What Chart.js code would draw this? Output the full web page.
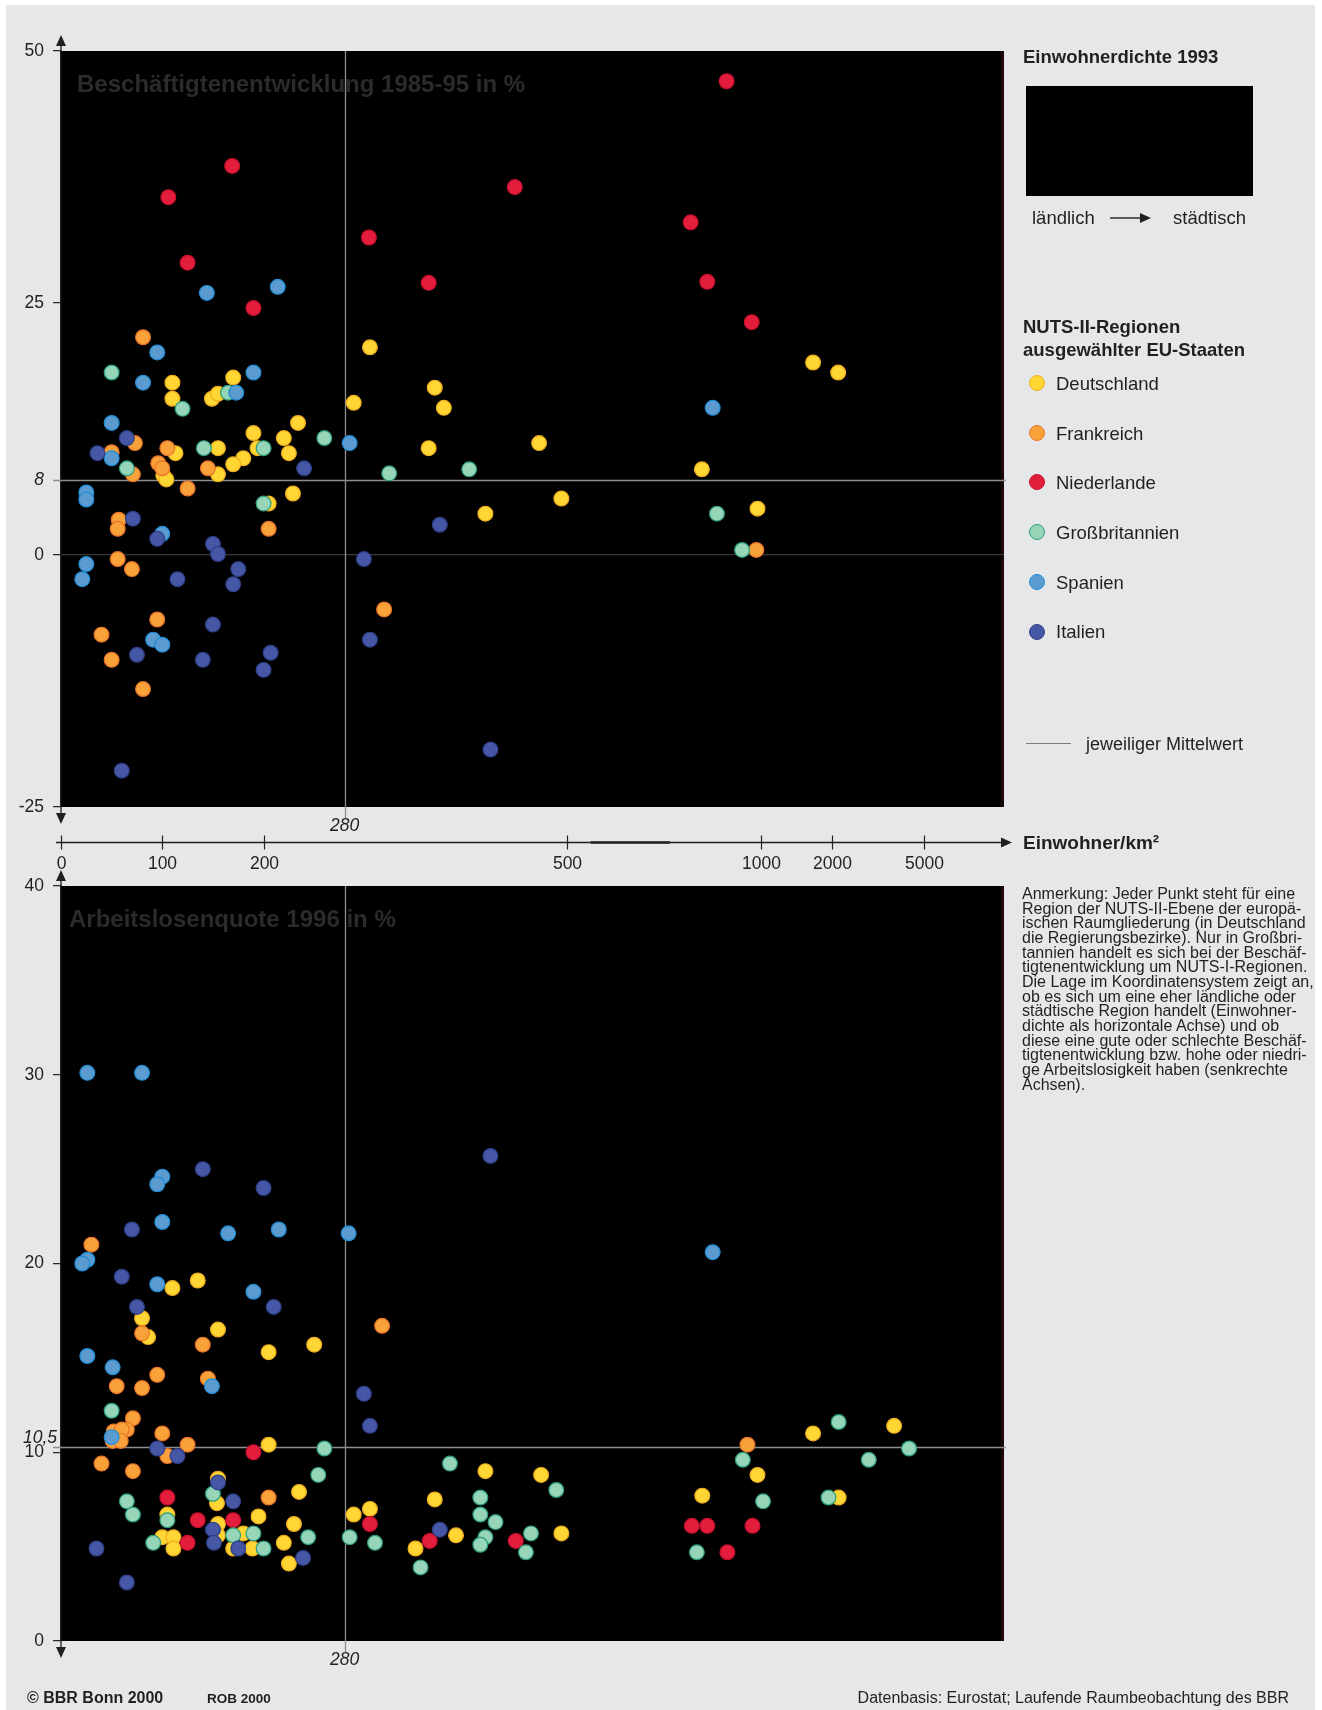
<!DOCTYPE html>
<html lang="de">
<head>
<meta charset="UTF-8">
<title>Einwohnerdichte, Beschäftigtenentwicklung und Arbeitslosenquote</title>
<script src="https://cdn.jsdelivr.net/npm/chart.js"></script>
<style>
    body {
        margin: 0;
        width: 1322px;
        height: 1710px;
        position: relative;
        overflow: hidden;
        background: #fff;
        font-family: "Liberation Sans", Arial, Helvetica, sans-serif;
        color: #231f20;
    }
    #panel {
        position: absolute;
        left: 6px;
        top: 5px;
        width: 1309px;
        height: 1705px;
        background: #e6e7e9;
    }
    canvas {
        position: absolute;
        left: 0;
    }
    #empChart { top: 0; }
    #unempChart { top: 860px; }
    .txt {
        position: absolute;
        white-space: nowrap;
        line-height: 1;
        font-size: 18.5px;
    }
    .bold { font-weight: bold; }
    #densityBox {
        position: absolute;
        left: 1026px;
        top: 86px;
        width: 227px;
        height: 110px;
        background: #000;
    }
    .dot {
        position: absolute;
        width: 14px;
        height: 14px;
        border-radius: 50%;
        border: 1.3px solid;
    }
    #note {
        position: absolute;
        left: 1022px;
        top: 887px;
        font-size: 16px;
        line-height: 14.65px;
        white-space: nowrap;
    }
</style>
</head>
<body>
<div id="panel"></div>

<canvas id="empChart" width="1322" height="880"></canvas>
<canvas id="unempChart" width="1322" height="850"></canvas>

<div class="txt bold" style="left:1023px; top:48px;">Einwohnerdichte 1993</div>
<div id="densityBox"></div>
<div class="txt" style="left:1032px; top:209px;">ländlich</div>
<svg style="position:absolute; left:1108px; top:211px;" width="46" height="14">
    <line x1="2" y1="7" x2="33" y2="7" stroke="#231f20" stroke-width="1.4"/>
    <polygon points="32,2 43,7 32,12" fill="#231f20"/>
</svg>
<div class="txt" style="left:1173px; top:209px;">städtisch</div>

<div class="txt bold" style="left:1023px; top:318px;">NUTS-II-Regionen</div>
<div class="txt bold" style="left:1023px; top:340.5px;">ausgewählter EU-Staaten</div>
<div id="legend"></div>

<svg style="position:absolute; left:1026px; top:738px;" width="48" height="10">
    <line x1="0" y1="5.5" x2="45" y2="5.5" stroke="#7d7d7d" stroke-width="1.2"/>
</svg>
<div class="txt" style="left:1086px; top:734.5px; font-size:18px;">jeweiliger Mittelwert</div>

<div class="txt bold" style="left:1023px; top:832.5px; font-size:19px;">Einwohner/km²</div>

<div id="note">Anmerkung: Jeder Punkt steht für eine<br>Region der NUTS-II-Ebene der europä-<br>ischen Raumgliederung (in Deutschland<br>die Regierungsbezirke). Nur in Großbri-<br>tannien handelt es sich bei der Beschäf-<br>tigtenentwicklung um NUTS-I-Regionen.<br>Die Lage im Koordinatensystem zeigt an,<br>ob es sich um eine eher ländliche oder<br>städtische Region handelt (Einwohner-<br>dichte als horizontale Achse) und ob<br>diese eine gute oder schlechte Beschäf-<br>tigtenentwicklung bzw. hohe oder niedri-<br>ge Arbeitslosigkeit haben (senkrechte<br>Achsen).</div>

<div class="txt bold" style="left:27px; top:1690px; font-size:16px;">© BBR Bonn 2000</div>
<div class="txt bold" style="left:207px; top:1691.5px; font-size:13.5px;">ROB 2000</div>
<div class="txt" style="right:33px; top:1690px; font-size:16px;">Datenbasis: Eurostat; Laufende Raumbeobachtung des BBR</div>

<script>
    const COUNTRIES = ['Deutschland', 'Frankreich', 'Niederlande', 'Großbritannien', 'Spanien', 'Italien'];
    const FILL = ['#ffd633', '#f9a23a', '#e31d3c', '#97d5b8', '#5b9bd0', '#4657a5'];
    const EDGE = ['#efad1f', '#e9722a', '#c8102e', '#2a9c7c', '#1f8ed6', '#2f3f88'];

    // [Einwohner/km², Beschäftigtenentwicklung 1985-95 in %]
    const empDE = [[305,20.6],[1669,19.1],[2134,18.1],[170,17.6],[110,17.1],[369,16.6],[110,15.5],[149,15.5],[155,16.0],[289,15.1],
        [378,14.6],[234,13.1],[190,12.1],[220,11.6],[472,11.1],[363,10.6],[155,10.6],[194,10.6],[225,10.1],[113,10.1],
        [180,9.6],[170,9.0],[155,8.0],[101,7.9],[104,7.5],[848,8.5],[229,6.1],[494,5.6],[205,5.1],[419,4.1],[992,4.6]];
    const empFR = [[81,21.6],[73,11.1],[50,10.2],[71,8.0],[105,10.6],[96,9.1],[100,8.6],[145,8.6],[125,6.6],[57,3.5],
        [56,2.6],[205,2.6],[56,-0.4],[70,-1.4],[319,-5.4],[95,-6.4],[40,-7.9],[50,-10.4],[81,-13.3],[989,0.5]];
    const empNL = [[912,47.0],[106,35.5],[169,38.6],[448,36.5],[304,31.5],[125,29.0],[819,33.0],[363,27.0],[862,27.1],[190,24.5],[977,23.1]];
    const empGB = [[50,18.1],[120,14.5],[165,16.1],[141,10.6],[200,10.6],[65,8.6],[260,11.6],[324,8.1],[403,8.5],[200,5.1],[887,4.1],[952,0.5]];
    const empES = [[95,20.1],[81,17.1],[190,18.1],[173,16.1],[144,26.0],[214,26.6],[50,13.1],[50,9.6],[285,11.1],[876,14.6],
        [25,6.2],[25,5.5],[100,2.1],[25,-0.9],[21,-2.4],[91,-8.4],[100,-8.9]];
    const empIT = [[65,11.6],[36,10.1],[240,8.6],[71,3.6],[95,1.6],[150,1.1],[155,0.1],[374,3.0],[115,-2.4],[175,-1.4],
        [170,-2.9],[299,-0.4],[305,-8.4],[150,-6.9],[75,-9.9],[140,-10.4],[207,-9.7],[200,-11.4],[424,-19.3],[60,-21.4]];

    // [Einwohner/km², Arbeitslosenquote 1996 in %]
    const unempDE = [[110,18.7],[135,19.1],[80,17.1],[86,16.1],[155,16.5],[205,15.3],[250,15.7],[205,10.4],[155,8.6],[154,7.3],
        [235,7.9],[105,6.7],[155,6.2],[195,6.6],[230,6.2],[180,5.7],[100,5.5],[111,5.5],[155,5.6],[111,4.9],
        [170,4.9],[189,4.9],[220,5.2],[225,4.1],[289,6.7],[305,7.0],[350,4.9],[369,7.5],[390,5.6],[419,9.0],
        [474,8.8],[494,5.7],[849,7.7],[992,8.8],[1669,11.0],[2144,7.6],[3708,11.4]];
    const unempFR = [[30,21.0],[80,16.3],[140,15.7],[317,16.7],[95,14.1],[55,13.5],[80,13.4],[145,13.9],[71,11.8],[65,11.2],
        [52,11.1],[60,11.2],[51,10.6],[59,10.6],[100,11.0],[125,10.4],[105,9.8],[40,9.4],[71,9.0],[205,7.6],[966,10.4]];
    const unempNL = [[190,10.0],[105,7.6],[135,6.4],[170,6.4],[125,5.2],[305,6.2],[364,5.3],[449,5.3],[822,6.1],[862,6.1],[979,6.1],[914,4.7]];
    const unempGB = [[50,12.2],[260,10.2],[254,8.8],[150,7.8],[65,7.4],[71,6.7],[105,6.4],[91,5.2],[170,5.6],[190,5.7],
        [200,4.9],[244,5.5],[285,5.5],[310,5.2],[355,3.9],[384,9.4],[489,8.0],[414,7.6],[414,6.7],[429,6.3],
        [419,5.5],[414,5.1],[464,5.7],[459,4.7],[954,9.6],[835,4.7],[1024,7.4],[1940,7.6],[2144,11.6],[2887,9.6],[4298,10.2]];
    const unempES = [[26,30.1],[80,30.1],[100,24.6],[95,24.2],[100,22.2],[165,21.6],[215,21.8],[284,21.6],[26,20.2],[21,20.0],
        [95,18.9],[190,18.5],[26,15.1],[51,14.5],[149,13.5],[50,10.8],[876,20.6]];
    const unempIT = [[140,25.0],[200,24.0],[70,21.8],[60,19.3],[75,17.7],[210,17.7],[299,13.1],[305,11.4],[424,25.7],[95,10.2],
        [115,9.8],[155,8.4],[170,7.4],[35,4.9],[65,3.1],[150,5.9],[151,5.2],[175,4.9],[239,4.4],[374,5.9]];

    const EMP = [empDE, empFR, empNL, empGB, empES, empIT];
    const UNEMP = [unempDE, unempFR, unempNL, unempGB, unempES, unempIT];

    const X_TICKS = [0, 100, 200, 500, 1000, 2000, 5000];
    const X_MEAN = 280;
    const EMP_MEAN = 7.4;
    const UNEMP_MEAN = 10.3;

    const FONT = '"Liberation Sans", Arial, Helvetica, sans-serif';
    Chart.defaults.font.family = FONT;
    Chart.defaults.font.size = 17.5;
    Chart.defaults.color = '#231f20';

    // density axis: linear up to 500, squeezed between 500 and 1000, logarithmic above
    function densityPos(d) {
        if (d <= 500) return d;
        if (d <= 1000) return 500 + (d - 500) * 0.3814;
        if (d <= 2000) return 690.7 + Math.log2(d / 1000) * 70.1;
        return 760.8 + Math.log(d / 2000) / Math.log(2.5) * 91.6;
    }

    const LinearScale = Chart.LinearScale || Chart.registry.getScale('linear');
    class DensityScale extends LinearScale {
        getPixelForValue(value) {
            return super.getPixelForValue(densityPos(value));
        }
    }
    DensityScale.id = 'density';
    DensityScale.defaults = LinearScale.defaults;
    Chart.register(DensityScale);

    function arrow(ctx, x, y, dir) {
        ctx.beginPath();
        ctx.moveTo(x, y);
        if (dir === 'up') { ctx.lineTo(x - 5, y + 11); ctx.lineTo(x + 5, y + 11); }
        else if (dir === 'down') { ctx.lineTo(x - 5, y - 11); ctx.lineTo(x + 5, y - 11); }
        else { ctx.lineTo(x - 11, y - 5); ctx.lineTo(x - 11, y + 5); }
        ctx.closePath();
        ctx.fill();
    }

    const panelPlugin = {
        id: 'panel',
        beforeDraw(chart, args, o) {
            const { ctx, chartArea: a } = chart;
            ctx.save();
            ctx.fillStyle = '#000';
            ctx.fillRect(a.left, a.top, a.right - a.left, a.bottom - a.top);
            ctx.fillStyle = '#1e0707';
            ctx.fillRect(a.right - 3, a.top, 3, a.bottom - a.top);
            ctx.font = 'bold 24px ' + FONT;
            ctx.fillStyle = '#2b2b2b';
            ctx.textBaseline = 'alphabetic';
            ctx.fillText(o.title, a.left + o.titleX, a.top + 41);
            ctx.restore();
        },
        beforeDatasetsDraw(chart, args, o) {
            const { ctx, chartArea: a, scales } = chart;
            const mx = Math.round(scales.x.getPixelForValue(X_MEAN)) + 0.5;
            const my = Math.round(scales.y.getPixelForValue(o.mean)) + 0.5;
            ctx.save();
            ctx.strokeStyle = '#8e8e8e';
            ctx.lineWidth = 1.3;
            ctx.beginPath();
            ctx.moveTo(mx, a.top);
            ctx.lineTo(mx, a.bottom + 11);
            ctx.moveTo(a.left - 8, my);
            ctx.lineTo(a.right + 2, my);
            ctx.stroke();
            ctx.restore();
        },
        afterDraw(chart, args, o) {
            const { ctx, chartArea: a, scales } = chart;
            const x = scales.x, y = scales.y;
            ctx.save();
            ctx.fillStyle = ctx.strokeStyle = '#231f20';
            ctx.lineWidth = 1.3;

            // y axis runs out into arrows
            ctx.beginPath();
            ctx.moveTo(a.left, a.top);
            ctx.lineTo(a.left, a.top - 6);
            ctx.moveTo(a.left, a.bottom);
            ctx.lineTo(a.left, a.bottom + 7);
            ctx.stroke();
            arrow(ctx, a.left, a.top - 16, 'up');
            arrow(ctx, a.left, a.bottom + 17, 'down');

            ctx.font = 'italic 17.5px ' + FONT;
            ctx.textBaseline = 'middle';
            ctx.textAlign = 'center';
            ctx.fillText(String(X_MEAN), x.getPixelForValue(X_MEAN), a.bottom + 19.5);
            ctx.textAlign = 'right';
            ctx.fillText(o.meanLabel, a.left - o.meanInset, y.getPixelForValue(o.mean) + o.meanDy);

            if (o.densityAxis) {
                const ay = a.bottom + 35.5;
                const x0 = x.getPixelForValue(0);
                const tip = a.right + 8;
                ctx.lineWidth = 1.3;
                ctx.beginPath();
                ctx.moveTo(x0 - 5, ay);
                ctx.lineTo(tip - 8, ay);
                ctx.stroke();
                arrow(ctx, tip, ay, 'right');
                ctx.lineWidth = 2.6;
                ctx.beginPath();
                ctx.moveTo(x.getPixelForValue(560), ay);
                ctx.lineTo(x.getPixelForValue(765), ay);
                ctx.stroke();

                ctx.lineWidth = 1.2;
                ctx.font = '17.5px ' + FONT;
                ctx.textAlign = 'center';
                X_TICKS.forEach(t => {
                    const px = Math.round(x.getPixelForValue(t)) + 0.5;
                    ctx.beginPath();
                    ctx.moveTo(px, ay - 7);
                    ctx.lineTo(px, ay + 7);
                    ctx.stroke();
                    ctx.fillText(String(t), px, ay + 22);
                });
            }
            ctx.restore();
        }
    };

    function buildDatasets(series) {
        return series.map((pts, i) => ({
            label: COUNTRIES[i],
            data: pts.map(p => ({ x: p[0], y: p[1] })),
            backgroundColor: FILL[i],
            borderColor: EDGE[i],
            borderWidth: 1.2,
            pointRadius: 7.4,
            order: COUNTRIES.length - 1 - i
        }));
    }

    function makeChart(id, series, yOpts, padding, panel) {
        return new Chart(document.getElementById(id), {
            type: 'scatter',
            data: { datasets: buildDatasets(series) },
            options: {
                responsive: false,
                animation: false,
                events: [],
                layout: { padding: padding, autoPadding: false },
                plugins: {
                    legend: { display: false },
                    tooltip: { enabled: false },
                    panel: panel
                },
                scales: {
                    x: {
                        type: 'density',
                        display: false,
                        min: 0,
                        max: 931
                    },
                    y: {
                        min: yOpts.min,
                        max: yOpts.max,
                        afterFit: scale => { scale.width = 61; },
                        ticks: { stepSize: yOpts.step, padding: 9, color: '#231f20' },
                        border: { color: '#231f20', width: 1.3 },
                        grid: {
                            drawOnChartArea: yOpts.zeroLine,
                            color: c => (c.tick && c.tick.value === 0 ? '#3a3a3a' : 'transparent'),
                            tickColor: '#231f20',
                            tickLength: 8,
                            tickWidth: 1.2,
                            lineWidth: 1.3
                        }
                    }
                }
            },
            plugins: [panelPlugin]
        });
    }

    makeChart('empChart', EMP,
        { min: -25, max: 50, step: 25, zeroLine: true },
        { left: 0, top: 51, right: 318, bottom: 73 },
        { title: 'Beschäftigtenentwicklung 1985-95 in %', titleX: 16, mean: EMP_MEAN, meanLabel: '8', meanInset: 17, meanDy: 0, densityAxis: true });

    makeChart('unempChart', UNEMP,
        { min: 0, max: 40, step: 10, zeroLine: false },
        { left: 0, top: 26, right: 318, bottom: 69 },
        { title: 'Arbeitslosenquote 1996 in %', titleX: 8, mean: UNEMP_MEAN, meanLabel: '10,5', meanInset: 4, meanDy: -8.5, densityAxis: false });

    // legend on the right
    const legend = document.getElementById('legend');
    COUNTRIES.forEach((name, i) => {
        const cy = 383.3 + i * 49.7;
        const dot = document.createElement('div');
        dot.className = 'dot';
        dot.style.left = (1037 - 8.3) + 'px';
        dot.style.top = (cy - 8.3) + 'px';
        dot.style.background = FILL[i];
        dot.style.borderColor = EDGE[i];
        legend.appendChild(dot);
        const label = document.createElement('div');
        label.className = 'txt';
        label.style.left = '1056px';
        label.style.top = (cy - 8.5) + 'px';
        label.textContent = name;
        legend.appendChild(label);
    });
</script>
</body>
</html>
